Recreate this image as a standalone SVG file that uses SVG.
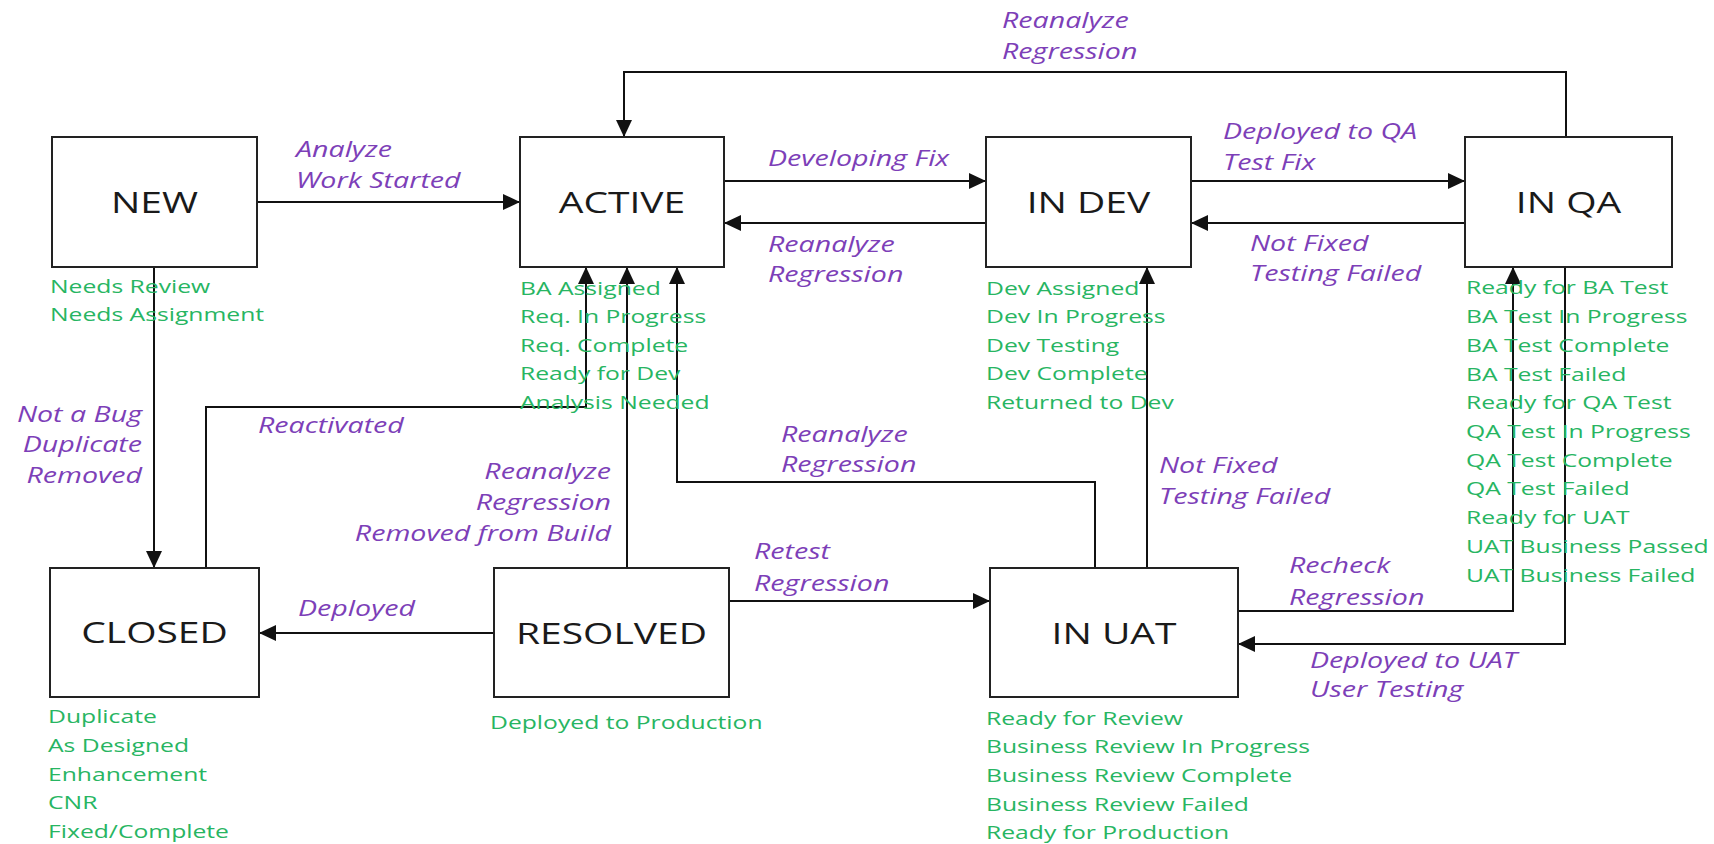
<svg xmlns="http://www.w3.org/2000/svg" width="1714" height="844" viewBox="0 0 1714 844">
<defs>
<marker id="arr" markerUnits="userSpaceOnUse" markerWidth="17" markerHeight="16" refX="17" refY="8" orient="auto">
<path d="M0,0 L17,8 L0,16 z" fill="#111"/>
</marker>
<style>
.box{fill:#fff;stroke:#222;stroke-width:2}
.nl{font-family:"Open Sans","Liberation Sans",sans-serif;font-size:30px;fill:#1a1a1a;text-anchor:middle}
.st{font-family:"Open Sans","Liberation Sans",sans-serif;font-size:19px;fill:#27b562}
.lb{font-family:"Open Sans","Liberation Sans",sans-serif;font-size:22px;font-style:italic;fill:#7d3fb8}
.end{text-anchor:end}
.cn{fill:none;stroke:#111;stroke-width:2;marker-end:url(#arr)}
</style>
</defs>
<rect width="1714" height="844" fill="#fff"/>

<g id="connectors">
<path class="cn" d="M257,202 H520"/>
<path class="cn" d="M724,181 H986"/>
<path class="cn" d="M986,223 H724"/>
<path class="cn" d="M1191,181 H1465"/>
<path class="cn" d="M1465,223 H1191"/>
<path class="cn" d="M1566,137 V72 H624 V137"/>
<path class="cn" d="M154,267 V568"/>
<path class="cn" d="M206,568 V407 H586 V267"/>
<path class="cn" d="M627,568 V267"/>
<path class="cn" d="M1095,568 V482 H677 V267"/>
<path class="cn" d="M494,633 H259"/>
<path class="cn" d="M729,601 H990"/>
<path class="cn" d="M1147,568 V267"/>
<path class="cn" d="M1238,611 H1513 V267"/>
<path class="cn" d="M1565,267 V644 H1238"/>
</g>

<g id="labels">
<text class="lb" transform="matrix(1.3 0 0 1 296 0)"><tspan x="0" y="157">Analyze</tspan><tspan x="0" y="188">Work Started</tspan></text>
<text class="lb" transform="matrix(1.3 0 0 1 768 0)"><tspan x="0" y="166">Developing Fix</tspan></text>
<text class="lb" transform="matrix(1.3 0 0 1 768 0)"><tspan x="0" y="252">Reanalyze</tspan><tspan x="0" y="282">Regression</tspan></text>
<text class="lb" transform="matrix(1.3 0 0 1 1223 0)"><tspan x="0" y="139">Deployed to QA</tspan><tspan x="0" y="170">Test Fix</tspan></text>
<text class="lb" transform="matrix(1.3 0 0 1 1250 0)"><tspan x="0" y="251">Not Fixed</tspan><tspan x="0" y="281">Testing Failed</tspan></text>
<text class="lb" transform="matrix(1.3 0 0 1 1002 0)"><tspan x="0" y="28">Reanalyze</tspan><tspan x="0" y="59">Regression</tspan></text>
<text class="lb end" transform="matrix(1.3 0 0 1 142 0)"><tspan x="0" y="422">Not a Bug</tspan><tspan x="0" y="452">Duplicate</tspan><tspan x="0" y="483">Removed</tspan></text>
<text class="lb" transform="matrix(1.3 0 0 1 258 0)"><tspan x="0" y="433">Reactivated</tspan></text>
<text class="lb end" transform="matrix(1.3 0 0 1 611 0)"><tspan x="0" y="479">Reanalyze</tspan><tspan x="0" y="510">Regression</tspan><tspan x="0" y="541">Removed from Build</tspan></text>
<text class="lb" transform="matrix(1.3 0 0 1 781 0)"><tspan x="0" y="442">Reanalyze</tspan><tspan x="0" y="472">Regression</tspan></text>
<text class="lb" transform="matrix(1.3 0 0 1 1159 0)"><tspan x="0" y="473">Not Fixed</tspan><tspan x="0" y="504">Testing Failed</tspan></text>
<text class="lb" transform="matrix(1.3 0 0 1 298 0)"><tspan x="0" y="616">Deployed</tspan></text>
<text class="lb" transform="matrix(1.3 0 0 1 754 0)"><tspan x="0" y="559">Retest</tspan><tspan x="0" y="591">Regression</tspan></text>
<text class="lb" transform="matrix(1.3 0 0 1 1289 0)"><tspan x="0" y="573">Recheck</tspan><tspan x="0" y="605">Regression</tspan></text>
<text class="lb" transform="matrix(1.3 0 0 1 1310 0)"><tspan x="0" y="668">Deployed to UAT</tspan><tspan x="0" y="697">User Testing</tspan></text>
</g>

<g id="node-new">
<rect class="box" x="52" y="137" width="205" height="130"/>
<text class="nl" transform="matrix(1.3 0 0 1 154.5 213)">NEW</text>
<text class="st" transform="matrix(1.3 0 0 1 50 0)"><tspan x="0" y="293">Needs Review</tspan><tspan x="0" y="321">Needs Assignment</tspan></text>
</g>

<g id="node-active">
<rect class="box" x="520" y="137" width="204" height="130"/>
<text class="nl" transform="matrix(1.3 0 0 1 622 213)">ACTIVE</text>
<text class="st" transform="matrix(1.3 0 0 1 520 0)"><tspan x="0" y="295">BA Assigned</tspan><tspan x="0" y="323.5">Req. In Progress</tspan><tspan x="0" y="352">Req. Complete</tspan><tspan x="0" y="380.5">Ready for Dev</tspan><tspan x="0" y="409">Analysis Needed</tspan></text>
</g>

<g id="node-indev">
<rect class="box" x="986" y="137" width="205" height="130"/>
<text class="nl" transform="matrix(1.3 0 0 1 1088.5 213)">IN DEV</text>
<text class="st" transform="matrix(1.3 0 0 1 986 0)"><tspan x="0" y="295">Dev Assigned</tspan><tspan x="0" y="323.5">Dev In Progress</tspan><tspan x="0" y="352">Dev Testing</tspan><tspan x="0" y="380.5">Dev Complete</tspan><tspan x="0" y="409">Returned to Dev</tspan></text>
</g>

<g id="node-inqa">
<rect class="box" x="1465" y="137" width="207" height="130"/>
<text class="nl" transform="matrix(1.3 0 0 1 1568.5 213)">IN QA</text>
<text class="st" transform="matrix(1.3 0 0 1 1466 0)"><tspan x="0" y="294">Ready for BA Test</tspan><tspan x="0" y="323">BA Test In Progress</tspan><tspan x="0" y="352">BA Test Complete</tspan><tspan x="0" y="381">BA Test Failed</tspan><tspan x="0" y="409">Ready for QA Test</tspan><tspan x="0" y="438">QA Test In Progress</tspan><tspan x="0" y="467">QA Test Complete</tspan><tspan x="0" y="495">QA Test Failed</tspan><tspan x="0" y="524">Ready for UAT</tspan><tspan x="0" y="553">UAT Business Passed</tspan><tspan x="0" y="582">UAT Business Failed</tspan></text>
</g>

<g id="node-closed">
<rect class="box" x="50" y="568" width="209" height="129"/>
<text class="nl" transform="matrix(1.3 0 0 1 154.5 643)">CLOSED</text>
<text class="st" transform="matrix(1.3 0 0 1 48 0)"><tspan x="0" y="723">Duplicate</tspan><tspan x="0" y="752">As Designed</tspan><tspan x="0" y="781">Enhancement</tspan><tspan x="0" y="809">CNR</tspan><tspan x="0" y="838">Fixed/Complete</tspan></text>
</g>

<g id="node-resolved">
<rect class="box" x="494" y="568" width="235" height="129"/>
<text class="nl" transform="matrix(1.3 0 0 1 611.5 644)">RESOLVED</text>
<text class="st" transform="matrix(1.3 0 0 1 490 0)"><tspan x="0" y="729">Deployed to Production</tspan></text>
</g>

<g id="node-inuat">
<rect class="box" x="990" y="568" width="248" height="129"/>
<text class="nl" transform="matrix(1.3 0 0 1 1114 644)">IN UAT</text>
<text class="st" transform="matrix(1.3 0 0 1 986 0)"><tspan x="0" y="725">Ready for Review</tspan><tspan x="0" y="753.5">Business Review In Progress</tspan><tspan x="0" y="782">Business Review Complete</tspan><tspan x="0" y="811">Business Review Failed</tspan><tspan x="0" y="839">Ready for Production</tspan></text>
</g>
</svg>
